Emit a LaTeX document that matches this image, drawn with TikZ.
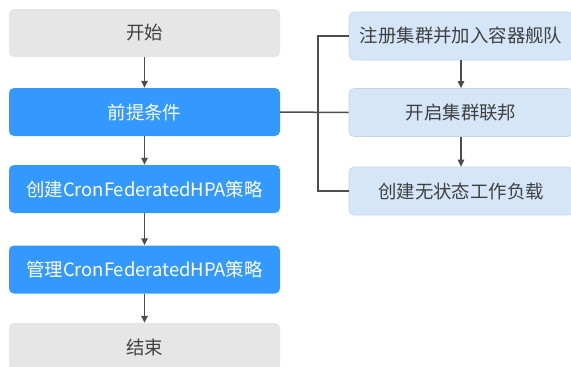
\documentclass[tikz,border=0pt]{standalone}
\usepackage{fontspec}
\setmainfont{Noto Sans CJK SC}
\usetikzlibrary{arrows.meta}
\definecolor{greybox}{HTML}{E6E6E6}
\definecolor{bluebox}{HTML}{3399FF}
\definecolor{lightbox}{HTML}{D4E6F8}
\definecolor{lightedge}{HTML}{C4D6E8}
\definecolor{linec}{HTML}{4D4D4D}
\definecolor{txt}{HTML}{404040}
\tikzset{
  x=1pt,y=1pt,
  base/.style={rounded corners=5pt, minimum height=48pt, inner sep=0pt, font=\fontsize{18.4}{22}\selectfont},
  greynode/.style={base, fill=greybox, text=txt, minimum width=271pt},
  bluenode/.style={base, fill=bluebox, text=white, minimum width=271pt},
  lightnode/.style={base, fill=lightbox, draw=lightedge, line width=0.6pt, text=txt, minimum width=224pt},
  conn/.style={draw=linec, line width=1.5pt},
  arr/.style={conn, -{Triangle[length=7pt,width=6.5pt]}}
}
\begin{document}
\begin{tikzpicture}
\useasboundingbox (0,0) rectangle (571,-367);
\fill[white] (0,0) rectangle (571,-367);
\node[greynode] (start) at (144.5,-33) {开始};
\node[bluenode] (pre) at (144.5,-112) {前提条件};
\node[bluenode] (create) at (144.5,-189) {创建CronFederatedHPA策略};
\node[bluenode] (manage) at (144.5,-269.5) {管理CronFederatedHPA策略};
\node[greynode] (end) at (144.5,-347) {结束};
\node[lightnode] (r1) at (461,-36) {注册集群并加入容器舰队};
\node[lightnode] (r2) at (461,-112.5) {开启集群联邦};
\node[lightnode] (r3) at (461,-191) {创建无状态工作负载};
\coordinate (bus) at (318,-112);
\draw[arr] (start) -- (pre);
\draw[arr] (pre) -- (create);
\draw[arr] (create) -- (manage);
\draw[arr] (manage) -- (end);
\draw[arr] (r1) -- (r2);
\draw[arr] (r2) -- (r3);
\draw[conn] (pre.east) -- (r2.west);
\draw[conn] (r1.west) -| (bus) |- (r3.west);
\end{tikzpicture}
\end{document}
